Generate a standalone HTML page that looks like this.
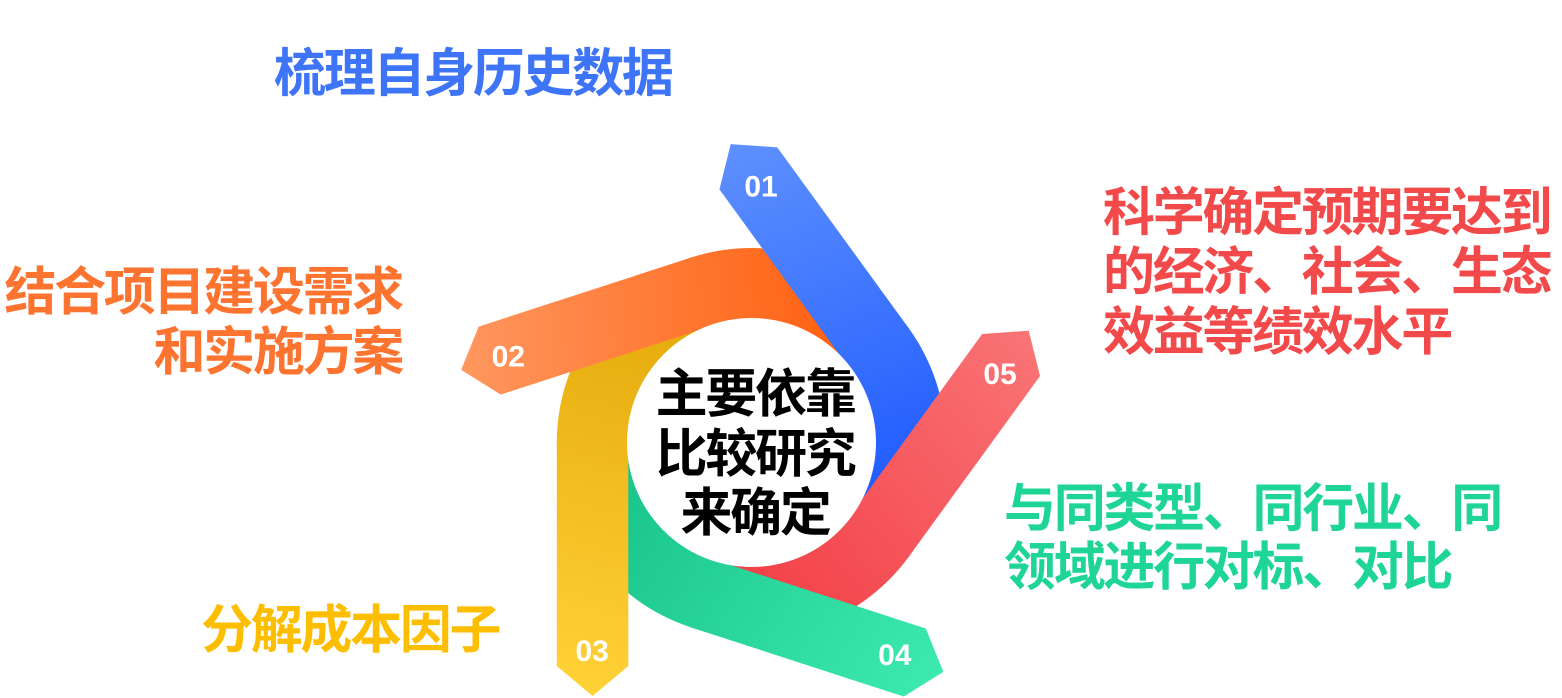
<!DOCTYPE html>
<html>
<head>
<meta charset="utf-8">
<style>
  html, body { margin: 0; padding: 0; background: #ffffff; }
  body { width: 1562px; height: 698px; overflow: hidden; }
  svg { display: block; }
  .cjk { font-family: "Liberation Sans", "Noto Sans CJK SC", sans-serif; font-weight: bold; font-size: 52px; letter-spacing: -2.3px; }
  .num { font-family: "Liberation Sans", "Noto Sans CJK SC", sans-serif; font-weight: bold; font-size: 30px; fill: #ffffff; }
</style>
</head>
<body>
<svg width="1562" height="698" viewBox="0 0 1562 698" xmlns="http://www.w3.org/2000/svg">
  <defs>
    <linearGradient id="g01" gradientUnits="userSpaceOnUse" x1="880" y1="536" x2="731" y2="144">
      <stop offset="0" stop-color="#1a56ff"/>
      <stop offset="1" stop-color="#5e90fd"/>
    </linearGradient>
    <linearGradient id="g02" gradientUnits="userSpaceOnUse" x1="880" y1="349" x2="461" y2="370">
      <stop offset="0" stop-color="#ff5c0a"/>
      <stop offset="1" stop-color="#ff975f"/>
    </linearGradient>
    <linearGradient id="g03" gradientUnits="userSpaceOnUse" x1="702" y1="291" x2="592" y2="696">
      <stop offset="0" stop-color="#e3a708"/>
      <stop offset="1" stop-color="#ffd237"/>
    </linearGradient>
    <linearGradient id="g04" gradientUnits="userSpaceOnUse" x1="592" y1="442" x2="943" y2="672">
      <stop offset="0" stop-color="#15c085"/>
      <stop offset="1" stop-color="#3ceab0"/>
    </linearGradient>
    <linearGradient id="g05" gradientUnits="userSpaceOnUse" x1="702" y1="594" x2="1029" y2="331">
      <stop offset="0" stop-color="#f23b43"/>
      <stop offset="1" stop-color="#f97476"/>
    </linearGradient>
  </defs>

  <!-- arc parts -->
  <path fill="url(#g03)" d="M556.8 442.5 A194.5 194.5 0 0 1 691.2 257.52 L713.29 325.52 A123 123 0 0 0 628.3 442.5 Z"/>
  <path fill="url(#g02)" d="M691.2 257.52 A194.5 194.5 0 0 1 908.65 328.17 L850.81 370.2 A123 123 0 0 0 713.29 325.52 Z"/>
  <path fill="url(#g01)" d="M908.65 328.17 A194.5 194.5 0 0 1 908.65 556.83 L850.81 514.8 A123 123 0 0 0 850.81 370.2 Z"/>
  <path fill="url(#g05)" d="M908.65 556.83 A194.5 194.5 0 0 1 691.2 627.48 L713.29 559.48 A123 123 0 0 0 850.81 514.8 Z"/>
  <path fill="url(#g04)" d="M691.2 627.48 A194.5 194.5 0 0 1 556.8 442.5 L628.3 442.5 A123 123 0 0 0 713.29 559.48 Z"/>

  <!-- straight parts -->
  <polygon fill="url(#g03)" points="628.3,440.5 556.8,440.5 556.8,666 592.55,696 628.3,666"/>
  <polygon fill="url(#g02)" points="715.19,324.9 693.1,256.9 478.64,326.59 461.16,369.86 500.73,394.59"/>
  <polygon fill="url(#g01)" points="851.99,371.82 909.83,329.79 777.28,147.35 730.73,144.1 719.44,189.38"/>
  <polygon fill="url(#g05)" points="849.63,516.42 907.47,558.45 1040.02,376.01 1028.73,330.73 982.18,333.98"/>
  <polygon fill="url(#g04)" points="711.39,558.86 689.3,626.86 903.76,696.55 943.34,671.82 925.85,628.55"/>

  <!-- center circle -->
  <circle cx="751.5" cy="442.5" r="124.5" fill="#ffffff"/>

  <!-- number labels -->
  <text class="num" x="761" y="196.5" text-anchor="middle">01</text>
  <text class="num" x="508.3" y="366.7" text-anchor="middle">02</text>
  <text class="num" x="592.2" y="661" text-anchor="middle">03</text>
  <text class="num" x="894.8" y="665" text-anchor="middle">04</text>
  <text class="num" x="1000" y="384" text-anchor="middle">05</text>

  <!-- center text -->
  <g class="cjk" fill="#000000" text-anchor="middle">
    <text x="755" y="411.8">主要依靠</text>
    <text x="755" y="472">比较研究</text>
    <text x="755" y="530.8">来确定</text>
  </g>

  <!-- outer labels -->
  <text class="cjk" fill="#3e74f7" x="274" y="91.3">梳理自身历史数据</text>

  <g class="cjk" fill="#fd7430" text-anchor="end">
    <text x="402" y="309.8">结合项目建设需求</text>
    <text x="402" y="369.8">和实施方案</text>
  </g>

  <g class="cjk" fill="#f24a4a">
    <text x="1103" y="230.3">科学确定预期要达到</text>
    <text x="1103" y="289.8">的经济、社会、生态</text>
    <text x="1103" y="349.8">效益等绩效水平</text>
  </g>

  <g class="cjk" fill="#1fd596">
    <text x="1004" y="526.3">与同类型、同行业、同</text>
    <text x="1004" y="584.8">领域进行对标、对比</text>
  </g>

  <text class="cjk" fill="#fdbe00" x="201" y="648">分解成本因子</text>
</svg>
</body>
</html>
